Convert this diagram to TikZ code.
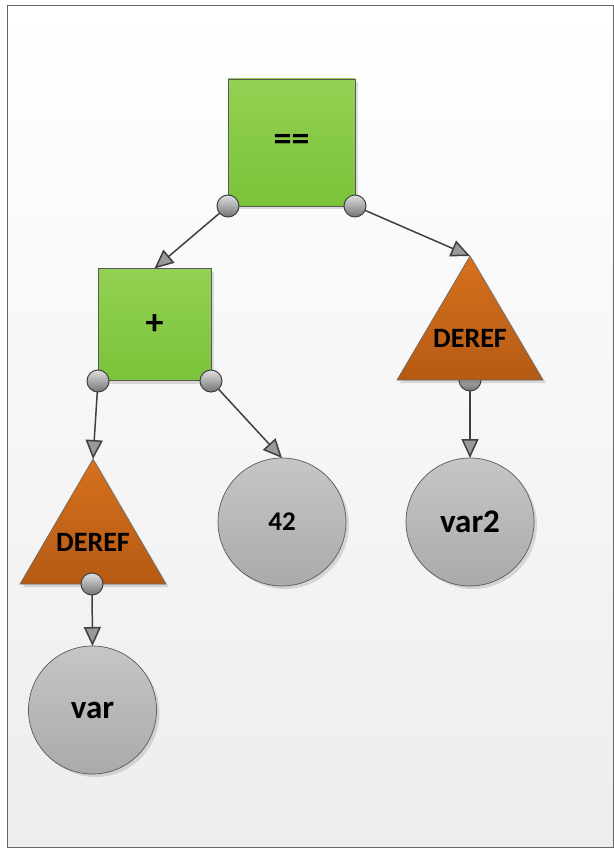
\documentclass[tikz,border=0pt]{standalone}
\usepackage{fontspec}
\setmainfont{Carlito}
\usetikzlibrary{arrows.meta,shapes.geometric,shadows}
\definecolor{edgec}{HTML}{404040}
\definecolor{greenA}{HTML}{93D152}
\definecolor{greenB}{HTML}{7AC33A}
\definecolor{orA}{HTML}{D6711E}
\definecolor{orB}{HTML}{B55A14}
\definecolor{grA}{HTML}{C6C6C6}
\definecolor{grB}{HTML}{AAAAAA}
\begin{document}
\begin{tikzpicture}[x=1pt,y=-1pt,
  shad/.style={drop shadow={shadow xshift=3pt,shadow yshift=-3pt,fill=black,opacity=0.12}},
  sq/.style={draw=black!65,line width=0.7pt,top color=greenA,bottom color=greenB,inner sep=0pt,outer sep=0pt,shad},
  tri/.style={draw=black!60,line width=0.6pt,top color=orA,bottom color=orB,shad},
  trilabel/.style={inner sep=0pt,font=\fontsize{28}{28}\selectfont\bfseries},
  leaf/.style={circle,minimum size=128pt,draw=black!65,line width=0.7pt,top color=grA,bottom color=grB,inner sep=0pt,outer sep=0pt,shad},
  port/.style={circle,minimum size=22pt,inner sep=0pt,outer sep=0pt,draw=black!75,line width=1pt,top color=black!12,bottom color=black!55},
  conn/.style={draw=edgec,line width=1.5pt,-{Triangle[length=19pt,width=17pt,fill=black!40]}}
]
\useasboundingbox (0,0) rectangle (613,848);
\shade[top color=white,bottom color=black!7] (7,5) rectangle (613,847);
\draw[black!60,line width=0.8pt] (7,5) rectangle (613,847);

% port positions
\coordinate (pEqL) at (228,206);
\coordinate (pEqR) at (355,206);
\coordinate (pPlL) at (98,381);
\coordinate (pPlR) at (211,381);
\coordinate (pDrR) at (470,380);
\coordinate (pDrL) at (92,584);

% triangle corners
\coordinate (drRtop) at (470,256);
\coordinate (drRbl) at (397,380);
\coordinate (drRbr) at (543,380);
\coordinate (drLtop) at (93,459);
\coordinate (drLbl) at (20,584);
\coordinate (drLbr) at (166,584);

% shapes
\node[sq,minimum width=127pt,minimum height=127pt,font=\fontsize{36}{36}\selectfont\bfseries] (eq) at (291.5,142.5) {==};
\node[sq,minimum width=113pt,minimum height=112pt,font=\fontsize{36}{36}\selectfont\bfseries] (plus) at (154.5,324.5) {+};
\node[port] (portDrR) at (pDrR) {};
\path[tri] (drRtop) -- (drRbr) -- (drRbl) -- cycle;
\node[trilabel] (derefR) at (470,338) {DEREF};
\path[tri] (drLtop) -- (drLbr) -- (drLbl) -- cycle;
\node[trilabel] (derefL) at (93,542) {DEREF};
\node[leaf,font=\fontsize{33}{33}\selectfont\bfseries] (var) at (92.5,710) {var};
\node[leaf,font=\fontsize{27}{27}\selectfont\bfseries] (n42) at (282,522) {42};
\node[leaf,font=\fontsize{33}{33}\selectfont\bfseries] (var2) at (470,522) {var2};

% connectors
\draw[conn] (pEqL) -- (plus.north);
\draw[conn] (pEqR) -- (drRtop);
\draw[conn] (pPlL) -- (drLtop);
\draw[conn] (pPlR) -- (n42.north);
\draw[conn] (portDrR.south) -- (var2.north);
\draw[conn] (pDrL) -- (var.north);

% ports on top
\node[port] (portEqL) at (pEqL) {};
\node[port] (portEqR) at (pEqR) {};
\node[port] (portPlL) at (pPlL) {};
\node[port] (portPlR) at (pPlR) {};
\node[port] (portDrL) at (pDrL) {};
\end{tikzpicture}
\end{document}
